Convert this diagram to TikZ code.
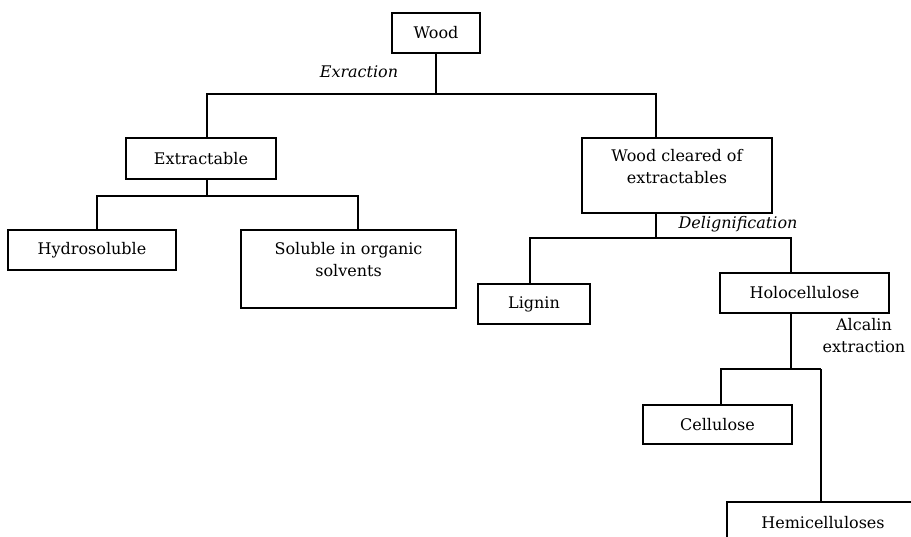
\documentclass[tikz,border=0pt]{standalone}
\usepackage{fontspec}
\setmainfont{DejaVu Serif}
\begin{document}
\begin{tikzpicture}[x=1pt,y=-1pt,
  every node/.style={font=\fontsize{16}{22}\selectfont, inner sep=0pt},
  box/.style={draw, line width=1.3pt, align=center},
  conn/.style={line width=1.5pt, line join=miter},
  step label/.style={font=\fontsize{16}{22}\selectfont\itshape},
  note/.style={align=center}]
\useasboundingbox (0,0) rectangle (911,536);
\begin{scope}
\clip (0,0) rectangle (911,536);

% boxes
\node[box, minimum width=88pt,  minimum height=40pt] (wood)   at (436,33)    {Wood};
\node[box, minimum width=150pt, minimum height=41pt] (extr)   at (201,158.5) {Extractable};
\node[box, minimum width=190pt, minimum height=75pt] (clean)  at (677,175.5) {Wood cleared of\\extractables\\[-10pt]\strut};
\node[box, minimum width=168pt, minimum height=40pt] (hydro)  at (92,250)    {Hydrosoluble};
\node[box, minimum width=215pt, minimum height=78pt] (solu)   at (348.5,269) {Soluble in organic\\solvents\\[-10pt]\strut};
\node[box, minimum width=112pt, minimum height=40pt] (lignin) at (534,304)   {Lignin};
\node[box, minimum width=169pt, minimum height=40pt] (holo)   at (804.5,293) {Holocellulose};
\node[box, minimum width=149pt, minimum height=39pt] (cell)   at (717.5,424.5) {Cellulose};
\node[box, minimum width=192pt, minimum height=42pt] (hemi)   at (823,523)   {Hemicelluloses};

% step labels
\node[step label] (lextr) at (359,72)  {Exraction};
\node[step label] (ldel)  at (738,224) {Delignification};
\node[note]       (lalc)  at (864,336) {Alcalin\\extraction};

% branch points
\coordinate (b1l) at (207,94);  \coordinate (b1r) at (656,94);
\coordinate (b2l) at (97,196);  \coordinate (b2r) at (358,196);
\coordinate (b3l) at (530,238); \coordinate (b3r) at (791,238);
\coordinate (b4l) at (721,369); \coordinate (b4r) at (821,369);

% connectors
\draw[conn] (wood.south) -- (wood.south |- b1l);
\draw[conn] (b1l |- extr.north) -- (b1l) -- (b1r) -- (b1r |- clean.north);

\draw[conn] (b1l |- extr.south) -- (b1l |- b2l);
\draw[conn] (b2l |- hydro.north) -- (b2l) -- (b2r) -- (b2r |- solu.north);

\draw[conn] (b1r |- clean.south) -- (b1r |- b3l);
\draw[conn] (b3l |- lignin.north) -- (b3l) -- (b3r) -- (b3r |- holo.north);

\draw[conn] (b3r |- holo.south) -- (b3r |- b4l);
\draw[conn] (b4l |- cell.north) -- (b4l) -- (b4r);
\draw[line width=2.2pt] (b4r) -- (b4r |- hemi.north);
\end{scope}
\end{tikzpicture}
\end{document}
